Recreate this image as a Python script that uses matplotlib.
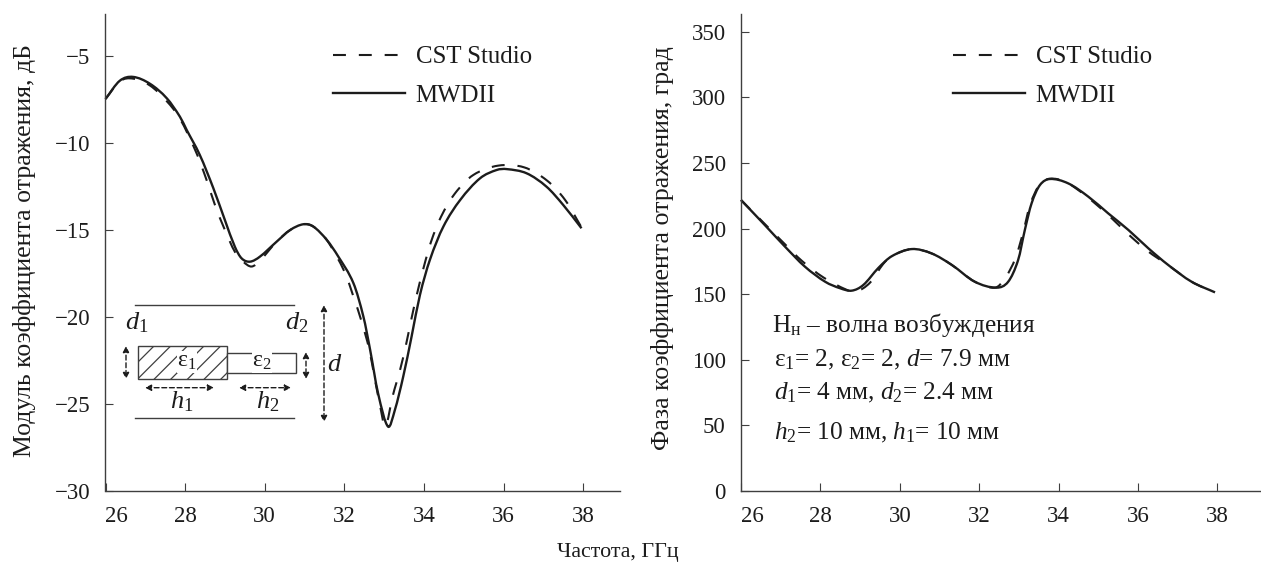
import matplotlib
matplotlib.use("Agg")
import matplotlib.pyplot as plt
from matplotlib.lines import Line2D
from matplotlib.patches import PathPatch, Rectangle
from matplotlib.path import Path

plt.rcParams['font.family'] = ['Liberation Serif', 'DejaVu Sans']
plt.rcParams['mathtext.fontset'] = 'custom'
plt.rcParams['mathtext.rm'] = 'Liberation Serif'
plt.rcParams['mathtext.it'] = 'Liberation Serif:italic'
plt.rcParams['mathtext.bf'] = 'Liberation Serif:bold'
plt.rcParams['hatch.linewidth'] = 0.9

# --- data ---
mag_solid_x = [26.0, 26.36, 26.69, 27.12, 27.54, 27.87, 28.04, 28.37, 28.71, 29.0, 29.25, 29.42, 29.63, 29.88, 30.3,
               30.64, 30.97, 31.22, 31.56, 31.85, 32.23, 32.48, 32.65, 32.85, 33.1, 33.27, 33.48, 33.69, 33.9, 34.15,
               34.49, 34.91, 35.41, 35.83, 36.08, 36.58, 37.08, 37.5, 37.96]
mag_solid_y = [-7.47, -6.42, -6.2, -6.6, -7.43, -8.49, -9.25, -10.69, -12.6, -14.43, -15.96, -16.63, -16.82, -16.53,
               -15.67, -15.0, -14.67, -14.8, -15.57, -16.53, -18.06, -19.98, -21.9, -24.4, -26.3, -25.35, -23.43,
               -21.13, -18.74, -16.72, -14.8, -13.28, -12.03, -11.55, -11.5, -11.74, -12.51, -13.56, -14.9]
mag_dash_x = [26.0, 26.36, 26.69, 27.12, 27.54, 27.87, 28.29, 28.54, 28.75, 29.0, 29.25, 29.46, 29.67, 29.88, 30.3,
              30.64, 30.97, 31.22, 31.56, 32.02, 32.23, 32.44, 32.63, 32.77, 32.92, 33.0, 33.07, 33.21, 33.4, 33.55,
              33.69, 33.83, 34.0, 34.18, 34.43, 34.78, 35.24, 35.87, 36.52, 37.1, 37.55, 37.96]
mag_dash_y = [-7.47, -6.45, -6.3, -6.7, -7.6, -8.6, -10.6, -12.13, -13.56, -15.0, -16.25, -16.82, -17.1, -16.76,
              -15.67, -15.0, -14.67, -14.8, -15.57, -17.47, -18.83, -20.3, -21.9, -23.6, -25.35, -26.2, -26.1, -24.6,
              -23.05, -21.6, -20.07, -18.64, -17.1, -15.67, -14.24, -12.9, -11.84, -11.3, -11.4, -12.17, -13.28,
              -14.85]

ph_solid_x = [26.0, 26.6, 27.11, 27.61, 28.12, 28.5, 28.79, 29.08, 29.46, 29.8, 30.3, 30.8, 31.31, 31.89, 32.44, 32.73,
              32.98, 33.15, 33.32, 33.53, 33.78, 34.24, 34.75, 35.25, 35.76, 36.26, 36.76, 37.35, 37.94]
ph_solid_y = [221.8, 202.7, 186.2, 171, 159.5, 154.5, 152.7, 157, 170, 179, 184.4, 181.1, 172.3, 159.5, 155, 159.5,
              176, 199, 219.3, 233.2, 237.8, 234.5, 224.3, 211.6, 198.9, 185, 172.3, 159.5, 151.4]
ph_dash_x = [26.0, 26.6, 27.11, 27.53, 28.07, 28.65, 28.9, 29.25, 29.58, 29.8, 30.3, 30.8, 31.31, 31.89, 32.4, 32.65,
             32.92, 33.11, 33.28, 33.53, 33.78, 34.16, 34.66, 35.25, 35.73, 36.23, 36.79, 37.35, 37.94]
ph_dash_y = [221.8, 203.5, 188, 175.5, 162.9, 153.5, 152, 158.8, 173, 179, 184.4, 181.1, 172.3, 159.5, 155, 162,
             178, 197.6, 218, 234, 238, 235.8, 225.6, 210.4, 196.4, 183.2, 171.5, 159.5, 151.4]

x_ticks = [26, 28, 30, 32, 34, 36, 38]
mag_ticks = [-30, -25, -20, -15, -10, -5]
mag_ticklabels = ['−30', '−25', '−20', '−15', '−10', '−5']
ph_ticks = [0, 50, 100, 150, 200, 250, 300, 350]
series_names = ['CST Studio', 'MWDII']
y_labels = ['Модуль коэффициента отражения, дБ', 'Фаза коэффициента отражения, град']
x_label = 'Частота, ГГц'
notes = ['Н$_{\\mathrm{н}}$ – волна возбуждения',
         'ε$_1$= 2, ε$_2$= 2, $d$= 7.9 мм',
         '$d_1$= 4 мм, $d_2$= 2.4 мм',
         '$h_2$= 10 мм, $h_1$= 10 мм']

W, H = 1261, 562
FS = 16.5
INK = '#1c1c1c'
AX = '#3f3f3f'
DASH = (0, (6.2, 6.2))
fig = plt.figure(figsize=(W / 100, H / 100), dpi=100, facecolor='white')


def make_axes(x0, x1, y0, y1):
    return fig.add_axes([x0 / W, 1 - y1 / H, (x1 - x0) / W, (y1 - y0) / H])


def style(ax):
    for s in ('top', 'right'):
        ax.spines[s].set_visible(False)
    for s in ('left', 'bottom'):
        ax.spines[s].set_linewidth(1.0)
        ax.spines[s].set_color(AX)
    ax.tick_params(direction='in', length=5.8, width=0.8, color=AX, labelsize=FS, labelcolor=INK)
    ax.tick_params(axis='x', pad=10.5)
    ax.tick_params(axis='y', pad=11)
    ax.set_xticks(x_ticks)
    ax.get_xticklabels()[0].set_ha('left')


def smooth_path(xs, ys):
    n = len(xs)
    slopes = []
    for i in range(n):
        a, b = max(i - 1, 0), min(i + 1, n - 1)
        slopes.append((ys[b] - ys[a]) / (xs[b] - xs[a]))
    verts, codes = [(xs[0], ys[0])], [Path.MOVETO]
    for i in range(n - 1):
        h = (xs[i + 1] - xs[i]) / 3
        verts += [(xs[i] + h, ys[i] + slopes[i] * h), (xs[i + 1] - h, ys[i + 1] - slopes[i + 1] * h),
                  (xs[i + 1], ys[i + 1])]
        codes += [Path.CURVE4] * 3
    return Path(verts, codes)


def curves(ax, xd, yd, xs, ys, bbox):
    ax.add_patch(PathPatch(smooth_path(xd, yd), fill=False, edgecolor=INK, lw=1.5, ls=DASH, capstyle='butt',
                           clip_on=False))
    ax.add_patch(PathPatch(smooth_path(xs, ys), fill=False, edgecolor=INK, lw=1.7, joinstyle='round', clip_on=False))
    handles = [Line2D([], [], color=INK, lw=1.5, ls=DASH, dash_capstyle='butt'),
               Line2D([], [], color=INK, lw=1.7)]
    ax.legend(handles, series_names, loc='upper left', bbox_to_anchor=bbox, frameon=False, fontsize=17.9,
              handlelength=2.9, handletextpad=0.42, labelspacing=0.64, borderpad=0, borderaxespad=0, labelcolor=INK)


# --- left panel ---
a1 = make_axes(105.5, 620, 14, 491)
style(a1)
curves(a1, mag_dash_x, mag_dash_y, mag_solid_x, mag_solid_y, ((333 - 105.5) / 514.5, 1 - (46 - 14) / 477))
a1.set_xlim(26, 26 + 514.5 / 39.8)
a1.set_ylim(-30, -30 + 477 / 17.4)
a1.set_yticks(mag_ticks)
a1.set_yticklabels(mag_ticklabels)

# --- right panel ---
a2 = make_axes(741, 1260, 14, 491)
style(a2)
curves(a2, ph_dash_x, ph_dash_y, ph_solid_x, ph_solid_y, ((953 - 741) / 519, 1 - (46 - 14) / 477))
a2.set_xlim(26, 26 + 519 / 39.7)
a2.set_ylim(0, 477 / 1.312)
a2.set_yticks(ph_ticks)

# --- overlay in pixel coordinates for labels, notes and schematic ---
ov = fig.add_axes([0, 0, 1, 1], facecolor='none')
ov.set_xlim(0, W)
ov.set_ylim(H, 0)
ov.axis('off')

ov.text(25, 251, y_labels[0], rotation=90, ha='center', va='center', fontsize=18.5, color=INK)
ov.text(662, 248, y_labels[1], rotation=90, ha='center', va='center', fontsize=18.6, color=INK)
ov.text(618, 552, x_label, ha='center', va='center', fontsize=15.8, color=INK)

for txt, xx, yy in zip(notes, [772, 774, 774, 774], [332, 366, 399, 439]):
    ov.text(xx, yy, txt, ha='left', va='baseline', fontsize=18.2, color=INK)

# schematic
ov.plot([135, 294], [305, 305], color=AX, lw=1.0)
ov.plot([135, 294], [418, 418], color=AX, lw=1.0)
ov.add_patch(Rectangle((138.3, 346), 88.4, 33.4, facecolor='white', edgecolor=AX, lw=1.0, hatch='//'))
ov.add_patch(Rectangle((226.7, 352.7), 69.3, 20, facecolor='white', edgecolor=AX, lw=1.0))


def arrow(x0, y0, x1, y1):
    ov.annotate('', xy=(x1, y1), xytext=(x0, y0),
                arrowprops=dict(arrowstyle='<|-|>', ls=(0, (3.5, 2)), lw=1.0, color=INK, mutation_scale=9,
                                shrinkA=0, shrinkB=0))


arrow(126, 346, 126, 379)
arrow(306, 352, 306, 379)
arrow(145, 387.7, 214, 387.7)
arrow(239, 387.7, 291, 387.7)
arrow(324, 305, 324, 422)

for txt, xx, yy in [('$d_1$', 137, 323), ('$d_2$', 297, 323), ('$h_1$', 182, 402), ('$h_2$', 268, 402),
                    ('$d$', 335, 365)]:
    ov.text(xx, yy, txt, ha='center', va='center', fontsize=19, color=INK)
for txt, xx, yy in [('ε$_1$', 187, 362), ('ε$_2$', 262, 362)]:
    ov.text(xx, yy, txt, ha='center', va='center', fontsize=17, color=INK,
            bbox=dict(facecolor='white', edgecolor='none', pad=0.2))

fig.savefig('out.png', dpi=100, facecolor='white')
